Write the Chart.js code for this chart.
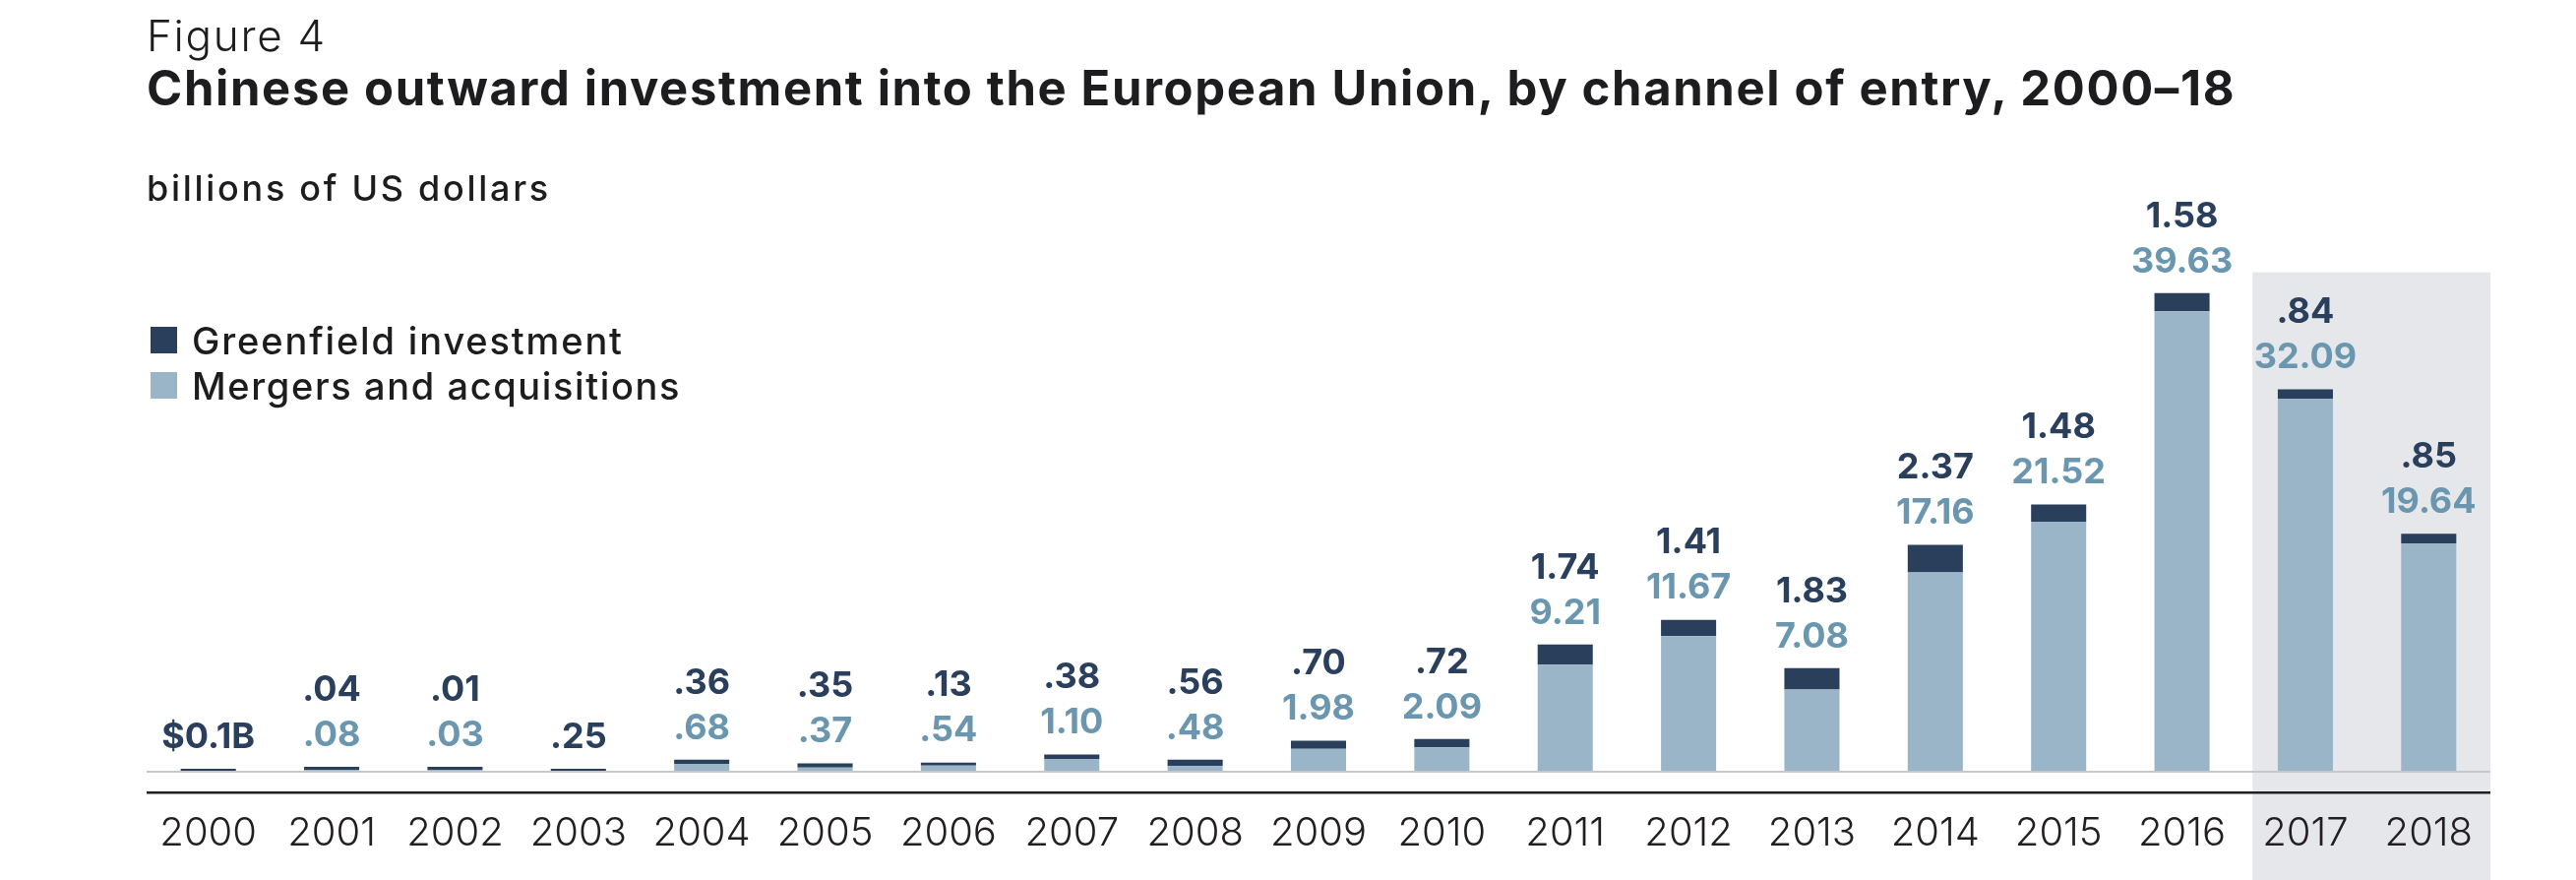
<!DOCTYPE html>
<html>
<head>
<meta charset="utf-8">
<script src="https://cdn.jsdelivr.net/npm/chart.js@4.4.0/dist/chart.umd.min.js"></script>
<style>
  html, body { margin: 0; padding: 0; background: #fff; }
  body { width: 2618px; height: 894px; position: relative; overflow: hidden; font-family: Inter, "Noto Sans", sans-serif; }
  #chart { position: absolute; left: 0; top: 0; }
  .txt { position: absolute; white-space: nowrap; line-height: 1; color: #1d1d1f; }
  #fig { left: 149px; top: 14px; font-size: 44px; font-weight: 300; }
  #title { left: 149px; top: 65px; font-size: 49px; font-weight: 700; }
  #unit { left: 149px; top: 173px; font-size: 36px; font-weight: 500; }
  .leg { position: absolute; left: 153px; height: 27px; }
  .leg span.sw { position: absolute; left: 0; top: 0; width: 27px; height: 27px; }
  .leg span.lb { position: absolute; left: 42px; top: -5px; font-size: 38px; font-weight: 500; line-height: 1; white-space: nowrap; color: #1d1d1f; }
</style>
</head>
<body>
<canvas id="chart" width="2618" height="894"></canvas>
<div class="txt" id="fig" data-w="183">Figure 4</div>
<div class="txt" id="title" data-w="2123">Chinese outward investment into the European Union, by channel of entry, 2000–18</div>
<div class="txt" id="unit" data-w="411">billions of US dollars</div>
<div id="legend"></div>

<script>
// Data (billions of US dollars)
const years = ['2000', '2001', '2002', '2003', '2004', '2005', '2006', '2007', '2008', '2009',
               '2010', '2011', '2012', '2013', '2014', '2015', '2016', '2017', '2018'];
const greenfield = [0.1, 0.04, 0.01, 0.25, 0.36, 0.35, 0.13, 0.38, 0.56, 0.70,
                    0.72, 1.74, 1.41, 1.83, 2.37, 1.48, 1.58, 0.84, 0.85];
const mergers = [null, 0.08, 0.03, null, 0.68, 0.37, 0.54, 1.10, 0.48, 1.98,
                 2.09, 9.21, 11.67, 7.08, 17.16, 21.52, 39.63, 32.09, 19.64];
const seriesNames = ['Greenfield investment', 'Mergers and acquisitions'];
const firstLabel = '$0.1B';
const yMax = 45;
const shadeFrom = 17;   // 2017 and 2018 are shaded
const shadeTop = 43;

const DARK = '#2a3f5c';
const LIGHT = '#9bb5c8';
const LIGHT_TXT = '#6a97af';

function fmt(v) {
  return v < 1 ? v.toFixed(2).slice(1) : v.toFixed(2);
}

// legend in html, top left of plot
const legendDiv = document.getElementById('legend');
[[seriesNames[0], DARK, 332, 439], [seriesNames[1], LIGHT, 378, 497]].forEach(([name, col, top, w]) => {
  legendDiv.innerHTML += `<div class="leg" style="top:${top}px"><span class="sw" style="background:${col}"></span><span class="lb" data-w="${w}">${name}</span></div>`;
});

// stretch text to the width seen in the figure
function fitText() {
  document.querySelectorAll('[data-w]').forEach(el => {
    const target = parseFloat(el.dataset.w);
    const w = el.getBoundingClientRect().width;
    const n = el.textContent.length;
    el.style.letterSpacing = ((target - w) / n).toFixed(2) + 'px';
  });
}

const shadePlugin = {
  id: 'shade',
  beforeDraw(chart) {
    const { ctx, chartArea, scales } = chart;
    const x = scales.x;
    const left = (x.getPixelForValue(shadeFrom - 1) + x.getPixelForValue(shadeFrom)) / 2 + 9;
    const top = scales.y.getPixelForValue(shadeTop);
    ctx.save();
    ctx.fillStyle = '#e6e7eb';
    ctx.fillRect(left, top, chartArea.right - left, chart.height - top);
    ctx.restore();
  }
};

const linesAndLabels = {
  id: 'linesAndLabels',
  afterDatasetsDraw(chart) {
    const { ctx, chartArea } = chart;
    ctx.save();
    // baseline + axis rule
    ctx.fillStyle = '#c8c8c8';
    ctx.fillRect(chartArea.left, chartArea.bottom - 1, chartArea.right - chartArea.left, 2);
    ctx.fillStyle = '#231f20';
    ctx.fillRect(chartArea.left, chartArea.bottom + 20, chartArea.right - chartArea.left, 2.5);

    // value labels above each bar
    const gfMeta = chart.getDatasetMeta(1);
    ctx.font = '700 36px Inter, "Noto Sans", sans-serif';
    ctx.textAlign = 'center';
    ctx.textBaseline = 'middle';
    gfMeta.data.forEach((bar, i) => {
      const top = Math.min(bar.y, bar.base);
      const gfText = i === 0 ? firstLabel : fmt(greenfield[i]);
      if (mergers[i] == null) {
        ctx.fillStyle = DARK;
        ctx.fillText(gfText, bar.x, top - 32);
      } else {
        ctx.fillStyle = LIGHT_TXT;
        ctx.fillText(fmt(mergers[i]), bar.x, top - 32);
        ctx.fillStyle = DARK;
        ctx.fillText(gfText, bar.x, top - 78);
      }
    });
    ctx.restore();
  }
};

Chart.defaults.font.family = 'Inter, "Noto Sans", sans-serif';

new Chart(document.getElementById('chart'), {
  type: 'bar',
  data: {
    labels: years,
    datasets: [
      { label: seriesNames[1], data: mergers, backgroundColor: LIGHT, minBarLength: 2,
        barPercentage: 0.447, categoryPercentage: 1 },
      { label: seriesNames[0], data: greenfield, backgroundColor: DARK, minBarLength: 3,
        barPercentage: 0.447, categoryPercentage: 1 }
    ]
  },
  options: {
    responsive: false,
    devicePixelRatio: 1,
    animation: false,
    layout: { padding: { left: 149, right: 87, top: 253, bottom: -16 } },
    plugins: { legend: { display: false }, tooltip: { enabled: false } },
    scales: {
      x: {
        stacked: true,
        grid: { display: false, drawTicks: false },
        border: { display: false },
        ticks: { color: '#231f20', padding: 39, autoSkip: false, maxRotation: 0,
                 font: { size: 40, weight: 300 } }
      },
      y: { stacked: true, display: false, min: 0, max: yMax }
    }
  },
  plugins: [shadePlugin, linesAndLabels]
});

fitText();
</script>
</body>
</html>
